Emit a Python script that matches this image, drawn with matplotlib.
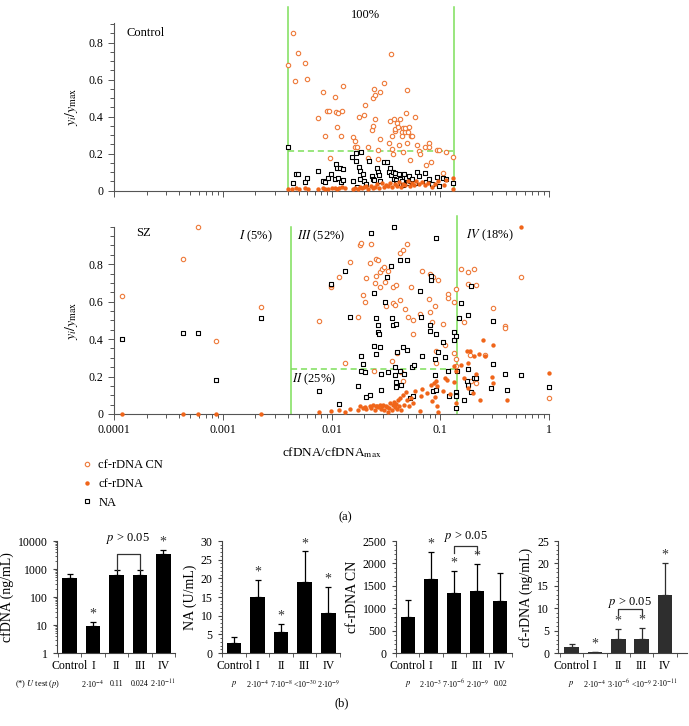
import numpy as np
import matplotlib
matplotlib.use("Agg")
import matplotlib.pyplot as plt
from matplotlib.ticker import LogLocator, MultipleLocator, FixedLocator, NullFormatter, FuncFormatter
from matplotlib.lines import Line2D
import matplotlib.transforms as mtransforms

plt.rcParams['font.family'] = ['Liberation Serif', 'DejaVu Serif']
plt.rcParams['mathtext.fontset'] = 'stix'

# ---------------- data: scatter (x stored as log10(cfDNA/cfDNAmax)) ----------------
ctrl_cn_logx = [-2.357, -2.311, -2.240, -2.228, -2.333, -2.403, -2.127, -2.078, -2.063, -2.041, -2.026, -2.011,
                -1.971, -1.959, -1.952, -1.940, -1.916, -1.900, -1.894, -1.805, -1.781, -1.781, -1.763, -1.744,
                -1.701, -1.692, -1.664, -1.631, -1.621, -1.621, -1.606, -1.597, -1.597, -1.575, -1.557, -1.550,
                -1.520, -1.575, -1.474, -1.459, -1.456, -1.444, -1.444, -1.437, -1.428, -1.416, -1.413, -1.398,
                -1.385, -1.382, -1.370, -1.355, -1.352, -1.346, -1.339, -1.327, -1.321, -1.315, -1.309, -1.303,
                -1.294, -1.284, -1.278, -1.272, -1.260, -1.235, -1.211, -1.195, -1.189, -1.137, -1.131, -1.107,
                -1.101, -1.085, -1.027, -1.011, -0.972, -0.950, -0.880, -1.667]
ctrl_cn_y = [0.854, 0.742, 0.688, 0.604, 0.593, 0.679, 0.395, 0.535, 0.297, 0.431, 0.431, 0.175,
             0.505, 0.427, 0.342, 0.418, 0.297, 0.433, 0.568, 0.292, 0.268, 0.236, 0.236, 0.396,
             0.411, 0.461, 0.238, 0.328, 0.350, 0.503, 0.551, 0.520, 0.385, 0.220, 0.535, 0.279,
             0.582, 0.169, 0.259, 0.377, 0.737, 0.297, 0.223, 0.198, 0.385, 0.324, 0.331, 0.367,
             0.346, 0.247, 0.389, 0.315, 0.297, 0.337, 0.207, 0.315, 0.341, 0.418, 0.544, 0.256,
             0.319, 0.342, 0.166, 0.297, 0.297, 0.398, 0.247, 0.216, 0.198, 0.238, 0.137, 0.259,
             0.238, 0.157, 0.220, 0.220, 0.097, 0.211, 0.180, 0.175]

ctrl_na_logx = [-2.403, -2.351, -2.330, -2.305, -2.240, -2.225, -2.127, -2.081, -2.060, -2.029, -2.008, -1.971,
                -1.959, -1.946, -1.922, -1.940, -1.913, -1.894, -1.894, -1.811, -1.799, -1.775, -1.775, -1.766,
                -1.744, -1.738, -1.738, -1.729, -1.707, -1.701, -1.683, -1.658, -1.627, -1.621, -1.606, -1.579,
                -1.575, -1.560, -1.550, -1.520, -1.487, -1.474, -1.459, -1.450, -1.437, -1.428, -1.419, -1.410,
                -1.395, -1.376, -1.370, -1.352, -1.346, -1.336, -1.318, -1.309, -1.297, -1.287, -1.278, -1.260,
                -1.235, -1.211, -1.195, -1.137, -1.131, -1.101, -1.079, -1.027, -1.011, -0.972, -0.950, -0.880]
ctrl_na_y = [0.238, 0.043, 0.092, 0.092, 0.045, 0.070, 0.106, 0.052, 0.045, 0.067, 0.088, 0.063,
             0.142, 0.124, 0.124, 0.070, 0.049, 0.117, 0.056, 0.184, 0.052, 0.202, 0.160, 0.022,
             0.130, 0.106, 0.061, 0.211, 0.092, 0.052, 0.038, 0.162, 0.081, 0.063, 0.058, 0.121,
             0.099, 0.085, 0.052, 0.157, 0.157, 0.103, 0.121, 0.085, 0.103, 0.063, 0.094, 0.058,
             0.040, 0.088, 0.063, 0.052, 0.031, 0.092, 0.067, 0.049, 0.040, 0.079, 0.052, 0.063,
             0.040, 0.103, 0.081, 0.094, 0.049, 0.065, 0.038, 0.076, 0.027, 0.067, 0.063, 0.040]

ctrl_rdna_logx = [-2.40, -2.36, -2.33, -2.30, -2.24, -2.22, -2.12, -2.08, -2.06, -2.03, -2.00, -1.97, -1.95,
                  -1.93, -1.90, -1.88, -1.80, -1.78, -1.76, -1.74, -1.72, -1.70, -1.68, -1.66, -1.64, -1.62,
                  -1.60, -1.58, -1.56, -1.54, -1.52, -1.50, -1.48, -1.46, -1.44, -1.42, -1.40, -1.38, -1.36,
                  -1.34, -1.32, -1.30, -1.28, -1.26, -1.24, -1.22, -1.20, -1.17, -1.14, -1.11, -1.08, -1.05,
                  -1.02, -0.97, -0.95, -0.88, -0.88]
ctrl_rdna_y = [0.010, 0.008, 0.012, 0.010, 0.014, 0.009, 0.008, 0.012, 0.010, 0.008, 0.013, 0.016, 0.010,
               0.014, 0.018, 0.012, 0.010, 0.016, 0.008, 0.020, 0.012, 0.018, 0.024, 0.010, 0.028, 0.016,
               0.022, 0.034, 0.014, 0.040, 0.020, 0.030, 0.026, 0.042, 0.018, 0.035, 0.028, 0.045, 0.022,
               0.038, 0.030, 0.050, 0.026, 0.040, 0.032, 0.055, 0.036, 0.046, 0.030, 0.042, 0.020, 0.038,
               0.052, 0.030, 0.058, 0.066, 0.008]

sz_cn_logx = [-3.924, -3.366, -3.223, -3.064, -2.649, -2.116, -2.003, -2.003, -1.933, -1.875, -1.832, -1.756,
              -1.735, -1.726, -1.713, -1.695, -1.683, -1.649, -1.634, -1.607, -1.604, -1.595, -1.588, -1.576,
              -1.555, -1.552, -1.540, -1.515, -1.509, -1.497, -1.485, -1.445, -1.433, -1.430, -1.415, -1.405,
              -1.396, -1.372, -1.369, -1.357, -1.345, -1.339, -1.320, -1.302, -1.293, -1.271, -1.247, -1.247,
              -1.186, -1.171, -1.104, -1.091, -1.091, -1.079, -1.064, -1.052, -1.040, -1.037, -1.021, -0.976,
              -0.960, -0.927, -0.927, -0.869, -0.872, -0.851, -0.851, -0.851, -0.811, -0.784, -0.747, -0.747,
              -0.729, -0.717, -0.692, -0.674, -0.585, -0.515, -0.409, -0.409, -0.259, 0.0, -0.674]
sz_cn_y = [0.629, 0.829, 1.000, 0.388, 0.570, 0.494, 0.677, 0.688, 0.730, 0.274, 0.812, 0.520,
           0.900, 0.914, 0.636, 0.597, 0.725, 0.804, 0.910, 0.232, 0.697, 0.830, 0.738, 0.821,
           0.759, 0.677, 0.776, 0.784, 0.704, 0.575, 0.761, 0.282, 0.677, 0.590, 0.581, 0.688,
           0.324, 0.861, 0.608, 0.226, 0.873, 0.178, 0.561, 0.910, 0.518, 0.679, 0.502, 0.429,
           0.535, 0.761, 0.613, 0.547, 0.748, 0.492, 0.729, 0.579, 0.337, 0.273, 0.713, 0.479,
           0.367, 0.641, 0.618, 0.326, 0.597, 0.665, 0.296, 0.255, 0.773, 0.492, 0.757, 0.693,
           0.315, 0.175, 0.775, 0.691, 0.315, 0.568, 0.472, 0.461, 0.734, 0.087, 0.166]

sz_na_logx = [-3.924, -3.366, -3.223, -3.064, -2.649, -2.116, -2.003, -1.933, -1.875, -1.832, -1.756, -1.726,
              -1.713, -1.726, -1.695, -1.686, -1.646, -1.634, -1.610, -1.607, -1.595, -1.592, -1.573, -1.573,
              -1.567, -1.555, -1.549, -1.543, -1.509, -1.494, -1.485, -1.454, -1.442, -1.430, -1.424, -1.418,
              -1.409, -1.403, -1.412, -1.405, -1.396, -1.369, -1.369, -1.357, -1.339, -1.333, -1.308, -1.302,
              -1.278, -1.262, -1.250, -1.241, -1.183, -1.174, -1.168, -1.098, -1.095, -1.088, -1.082, -1.067,
              -1.049, -1.049, -1.043, -1.037, -1.040, -1.018, -0.973, -0.960, -0.927, -0.918, -0.875, -0.875,
              -0.857, -0.851, -0.851, -0.851, -0.854, -0.842, -0.829, -0.811, -0.784, -0.747, -0.747, -0.753,
              -0.744, -0.717, -0.717, -0.692, -0.674, -0.534, -0.518, -0.515, -0.409, -0.384, -0.259, 0.0]
sz_na_y = [0.399, 0.431, 0.431, 0.180, 0.510, 0.121, 0.693, 0.052, 0.763, 0.517, 0.148, 0.312,
           0.267, 0.232, 0.224, 0.093, 0.100, 0.969, 0.645, 0.362, 0.319, 0.515, 0.437, 0.474,
           0.428, 0.356, 0.216, 0.130, 0.597, 0.731, 0.226, 0.788, 0.515, 0.474, 1.000, 0.249,
           0.173, 0.144, 0.207, 0.481, 0.330, 0.821, 0.232, 0.153, 0.360, 0.214, 0.342, 0.821,
           0.086, 0.251, 0.098, 0.260, 0.656, 0.520, 0.308, 0.476, 0.444, 0.718, 0.739, 0.121,
           0.210, 0.292, 0.130, 0.426, 0.937, 0.330, 0.387, 0.303, 0.232, 0.098, 0.438, 0.394,
           0.032, 0.116, 0.100, 0.094, 0.419, 0.232, 0.510, 0.595, 0.075, 0.527, 0.242, 0.175,
           0.157, 0.116, 0.681, 0.191, 0.191, 0.141, 0.265, 0.494, 0.216, 0.128, 0.210, 0.146]

sz_rdna_logx = [-3.924, -3.366, -3.223, -3.064, -2.649, -2.116, -2.003, -1.933, -1.875, -1.832, -1.756, -1.735,
                -1.713, -1.695, -1.680, -1.649, -1.634, -1.616, -1.604, -1.595, -1.582, -1.570, -1.558, -1.546,
                -1.537, -1.525, -1.515, -1.503, -1.494, -1.482, -1.473, -1.460, -1.448, -1.436, -1.427, -1.418,
                -1.409, -1.400, -1.390, -1.381, -1.369, -1.357, -1.345, -1.333, -1.317, -1.302, -1.287, -1.268,
                -1.250, -1.232, -1.189, -1.180, -1.168, -1.119, -1.088, -1.073, -1.058, -1.052, -1.040, -1.034,
                -1.027, -1.021, -0.976, -0.960, -0.936, -0.912, -0.875, -0.869, -0.854, -0.851, -0.811, -0.784,
                -0.753, -0.747, -0.747, -0.723, -0.699, -0.674, -0.692, -0.643, -0.631, -0.610, -0.591, -0.521,
                -0.518, -0.515, -0.387, -0.259, 0.0]
sz_rdna_y = [0.0, 0.0, 0.0, 0.0, 0.0, 0.009, 0.018, 0.020, 0.009, 0.029, 0.021, 0.041,
             0.030, 0.036, 0.029, 0.045, 0.034, 0.048, 0.023, 0.041, 0.045, 0.036, 0.048, 0.029,
             0.041, 0.046, 0.020, 0.045, 0.036, 0.009, 0.032, 0.059, 0.023, 0.048, 0.062, 0.036,
             0.055, 0.029, 0.077, 0.045, 0.084, 0.021, 0.103, 0.050, 0.116, 0.073, 0.041, 0.084,
             0.057, 0.121, 0.018, 0.094, 0.134, 0.112, 0.157, 0.068, 0.164, 0.089, 0.175, 0.041,
             0.148, 0.009, 0.121, 0.191, 0.184, 0.105, 0.255, 0.169, 0.059, 0.228, 0.260, 0.192,
             0.339, 0.273, 0.137, 0.335, 0.112, 0.212, 0.312, 0.322, 0.073, 0.394, 0.312, 0.196,
             0.166, 0.369, 0.077, 1.000, 0.219]

# thresholds (cfDNA/cfDNAmax) and mean y levels
ctrl_bounds = [0.0040, 0.133]
ctrl_level = 0.215
sz_bounds = [0.0042, 0.143]
sz_level = 0.24

# ---------------- data: bar charts ----------------
groups = ['Control', 'I', 'II', 'III', 'IV']
cfdna_mean = [465, 9.1, 630, 630, 3400]
cfdna_err = [665, 13.1, 900, 900, 4750]
cfdna_star = [False, True, False, False, True]
cfdna_p = ['2·10$^{-4}$', '0.11', '0.024', '2·10$^{-11}$']

na_mean = [2.7, 14.9, 5.5, 19.1, 10.6]
na_err = [4.3, 19.6, 7.7, 27.2, 17.8]
na_star = [False, True, True, True, True]
na_p = ['2·10$^{-4}$', '7·10$^{-8}$', '<10$^{-30}$', '2·10$^{-9}$']

cn_mean = [794, 1662, 1335, 1395, 1157]
cn_err = [1187, 2248, 1840, 1981, 1780]
cn_star = [False, True, True, True, False]
cn_p = ['2·10$^{-3}$', '7·10$^{-6}$', '2·10$^{-9}$', '0.02']

rdna_mean = [1.26, 0.15, 3.1, 3.2, 13.0]
rdna_err = [1.93, 0.15, 5.3, 5.5, 20.0]
rdna_star = [False, True, True, True, True]
rdna_p = ['2·10$^{-4}$', '3·10$^{-6}$', '<10$^{-9}$', '2·10$^{-11}$']

# ---------------- figure ----------------
W, H = 689, 726
fig = plt.figure(figsize=(W / 100, H / 100), dpi=100)

def px_axes(left, top, right, bottom):
    return fig.add_axes([left / W, 1 - bottom / H, (right - left) / W, (bottom - top) / H])

CN_COL = '#ee7a3a'
RD_COL = '#f0651a'
GREEN = '#7ddf5a'

def style_scatter(ax, ytop):
    ax.set_xscale('log')
    ax.set_xlim(1e-4, 1)
    ax.set_ylim(0, ytop)
    for s in ['top', 'right']:
        ax.spines[s].set_visible(False)
    for s in ['left', 'bottom']:
        ax.spines[s].set_color('#555555')
        ax.spines[s].set_linewidth(0.8)
    ax.yaxis.set_major_locator(FixedLocator([0, 0.2, 0.4, 0.6, 0.8]))
    ax.yaxis.set_minor_locator(MultipleLocator(0.05))
    ax.yaxis.set_major_formatter(FuncFormatter(lambda v, p: '0' if v == 0 else f'{v:.1f}'))
    ax.xaxis.set_major_locator(LogLocator(base=10, numticks=10))
    ax.xaxis.set_minor_locator(LogLocator(base=10, subs=np.arange(2, 10), numticks=10))
    ax.xaxis.set_minor_formatter(NullFormatter())
    ax.tick_params(which='both', direction='out', colors='#555555', labelcolor='black', labelsize=8.5, width=0.7)
    ax.tick_params(which='major', length=4)
    ax.tick_params(which='minor', length=3)
    ax.set_ylabel('$y_i/y_{\\mathrm{max}}$', fontsize=10, labelpad=6)

def draw_points(ax, cnx, cny, nax, nay, rdx, rdy):
    ax.scatter(10 ** np.array(cnx), cny, s=10, facecolors='white', edgecolors=CN_COL, linewidths=0.8, zorder=3, clip_on=False)
    ax.scatter(10 ** np.array(nax), nay, s=10, marker='s', facecolors='white', edgecolors='black', linewidths=0.8, zorder=4, clip_on=False)
    ax.scatter(10 ** np.array(rdx), rdy, s=10, color=RD_COL, linewidths=0, zorder=5, clip_on=False)

# top panel (Control)
ax1 = px_axes(114, 23.3, 549, 190.7)
style_scatter(ax1, 0.905)
ax1.xaxis.set_major_formatter(NullFormatter())
draw_points(ax1, ctrl_cn_logx, ctrl_cn_y, ctrl_na_logx, ctrl_na_y, ctrl_rdna_logx, ctrl_rdna_y)
for b in ctrl_bounds:
    ax1.plot([b, b], [0, 1.1], transform=mtransforms.blended_transform_factory(ax1.transData, ax1.transAxes),
             color=GREEN, lw=1.1, clip_on=False, zorder=2)
ax1.plot(ctrl_bounds, [ctrl_level, ctrl_level], color=GREEN, lw=1.1, ls=(0, (4, 2.5)), zorder=2)
ax1.text(0.029, 0.942, 'Control', transform=ax1.transAxes, fontsize=9, va='center', ha='left')
ax1.text(0.579, 1.051, '100%', transform=ax1.transAxes, fontsize=9, va='center', ha='center')

# bottom panel (SZ)
ax2 = px_axes(114, 226.7, 549, 414)
style_scatter(ax2, 1.0)
ax2.xaxis.set_major_formatter(FuncFormatter(lambda v, p: {1e-4: '0.0001', 1e-3: '0.001', 1e-2: '0.01', 1e-1: '0.1', 1: '1'}.get(round(v, 6), '')))
draw_points(ax2, sz_cn_logx, sz_cn_y, sz_na_logx, sz_na_y, sz_rdna_logx, sz_rdna_y)
bt = mtransforms.blended_transform_factory(ax2.transData, ax2.transAxes)
ax2.plot([sz_bounds[0]] * 2, [0, 1.0], transform=bt, color=GREEN, lw=1.1, clip_on=False, zorder=2)
ax2.plot([sz_bounds[1]] * 2, [0, 1.057], transform=bt, color=GREEN, lw=1.1, clip_on=False, zorder=2)
ax2.plot(sz_bounds, [sz_level, sz_level], color=GREEN, lw=1.1, ls=(0, (4, 2.5)), zorder=2)
ax2.set_xlabel('cfDNA/cfDNA$_{\\mathrm{max}}$', fontsize=9.5, labelpad=6)
ax2.text(0.05, 0.966, 'SZ', transform=ax2.transAxes, fontsize=9, va='center', ha='left')
ax2.text(0.2875, 0.95, '$\\mathit{I}$ (5%)', transform=ax2.transAxes, fontsize=9, va='center', ha='left')
ax2.text(0.42, 0.95, '$\\mathit{III}$ (52%)', transform=ax2.transAxes, fontsize=9, va='center', ha='left')
ax2.text(0.809, 0.955, '$\\mathit{IV}$ (18%)', transform=ax2.transAxes, fontsize=9, va='center', ha='left')
ax2.text(0.409, 0.187, '$\\mathit{II}$ (25%)', transform=ax2.transAxes, fontsize=9, va='center', ha='left')

# legend
handles = [Line2D([], [], marker='o', ls='none', markersize=3.2, markerfacecolor='white', markeredgecolor=CN_COL, markeredgewidth=0.8),
           Line2D([], [], marker='o', ls='none', markersize=3.2, markerfacecolor=RD_COL, markeredgecolor=RD_COL, markeredgewidth=0),
           Line2D([], [], marker='s', ls='none', markersize=3.2, markerfacecolor='white', markeredgecolor='black', markeredgewidth=0.8)]
fig.legend(handles, ['cf-rDNA CN', 'cf-rDNA', 'NA'], loc='upper left', bbox_to_anchor=(82 / W, 1 - 459 / H),
           frameon=False, fontsize=9, handlelength=0.8, handletextpad=0.5, labelspacing=0.55, borderpad=0, borderaxespad=0)
fig.text(345 / W, 1 - 517 / H, '(a)', fontsize=9, ha='center', va='center')
fig.text(342 / W, 1 - 703 / H, '(b)', fontsize=9, ha='center', va='center')

# ---------------- bar charts ----------------
def bar_panel(left, right, xr, means, errs, stars, pvals, ylabel, ylim, major, minor, color, log=False, plabel='$p$'):
    ax = px_axes(left, 541, right, 653)
    x = np.arange(len(groups))
    ax.bar(x, means, width=0.62, color=color, zorder=2)
    ax.errorbar(x, means, yerr=[np.zeros(len(means)), np.array(errs) - np.array(means)], fmt='none',
                ecolor=color, elinewidth=0.9, capsize=2, capthick=0.9, zorder=1)
    ax.set_xlim(*xr)
    if log:
        ax.set_yscale('log')
        ax.set_ylim(*ylim)
        ax.yaxis.set_major_locator(LogLocator(base=10, numticks=10))
        ax.yaxis.set_minor_locator(LogLocator(base=10, subs=np.arange(2, 10), numticks=10))
        ax.yaxis.set_major_formatter(FuncFormatter(lambda v, p: f'{int(round(v))}'))
        ax.yaxis.set_minor_formatter(NullFormatter())
    else:
        ax.set_ylim(*ylim)
        ax.yaxis.set_major_locator(MultipleLocator(major))
        ax.yaxis.set_minor_locator(MultipleLocator(minor))
    for s in ['top', 'right']:
        ax.spines[s].set_visible(False)
    for s in ['left', 'bottom']:
        ax.spines[s].set_color('#444444')
        ax.spines[s].set_linewidth(0.8)
    ax.set_xticks(x)
    ax.set_xticklabels(groups, fontsize=8.5)
    ax.set_xticks([-0.5, 0.5, 1.5, 2.5, 3.5, 4.5], minor=True)
    ax.tick_params(axis='x', which='major', length=0, pad=5)
    ax.tick_params(axis='x', which='minor', length=3, direction='out', colors='#444444')
    ax.tick_params(axis='y', which='major', length=3, direction='out', labelsize=8.5, colors='#444444', labelcolor='black')
    ax.tick_params(axis='y', which='minor', length=1.8, direction='out', colors='#444444')
    ax.set_ylabel(ylabel, fontsize=10, labelpad=3)
    for i, st in enumerate(stars):
        if st:
            ax.annotate('*', (i, errs[i]), xytext=(0, 1), textcoords='offset points', ha='center', va='bottom', fontsize=10, color='#333333')
    tr = mtransforms.blended_transform_factory(ax.transData, ax.transAxes)
    ax.text(0, -0.275, plabel, transform=tr, fontsize=6, ha='center', va='center')
    for i, pv in enumerate(pvals):
        ax.text(i + 1, -0.275, pv, transform=tr, fontsize=5.8, ha='center', va='center')
    return ax

b1 = bar_panel(57.3, 175, (-0.53, 4.5), cfdna_mean, cfdna_err, cfdna_star, cfdna_p, 'cfDNA (ng/mL)', (1, 10000), None, None, 'black', log=True, plabel='')
b1.text(60 / W, 1 - 684 / H, '(*) $U$ test ($p$)', transform=fig.transFigure, fontsize=6, ha='right', va='center')
b1.plot([2, 2, 3, 3], [950, 3300, 3300, 950], color='#333333', lw=0.9, clip_on=False)
b1.text(2.5, 12500, '$p$ > 0.05', fontsize=9, ha='center', va='center')

b2 = bar_panel(221.7, 340, (-0.53, 4.5), na_mean, na_err, na_star, na_p, 'NA (U/mL)', (0, 30), 5, 1, 'black')

b3 = bar_panel(395.7, 511.7, (-0.53, 4.5), cn_mean, cn_err, cn_star, cn_p, 'cf-rDNA CN', (0, 2500), 500, 100, 'black')
b3.plot([2, 2, 3, 3], [2226, 2389, 2389, 2226], color='#333333', lw=0.9, clip_on=False)
b3.text(2.5, 2611, '$p$ > 0.05', fontsize=9, ha='center', va='center')

b4 = bar_panel(558.3, 686.7, (-0.57, 4.93), rdna_mean, rdna_err, rdna_star, rdna_p, 'cf-rDNA (ng/mL)', (0, 25), 5, 1, '#2e2e2e')
b4.plot([2, 2, 3, 3], [8.5, 9.8, 9.8, 8.5], color='#333333', lw=0.9, clip_on=False)
b4.text(2.5, 11.3, '$p$ > 0.05', fontsize=9, ha='center', va='center')

fig.savefig('out.png', dpi=100)
